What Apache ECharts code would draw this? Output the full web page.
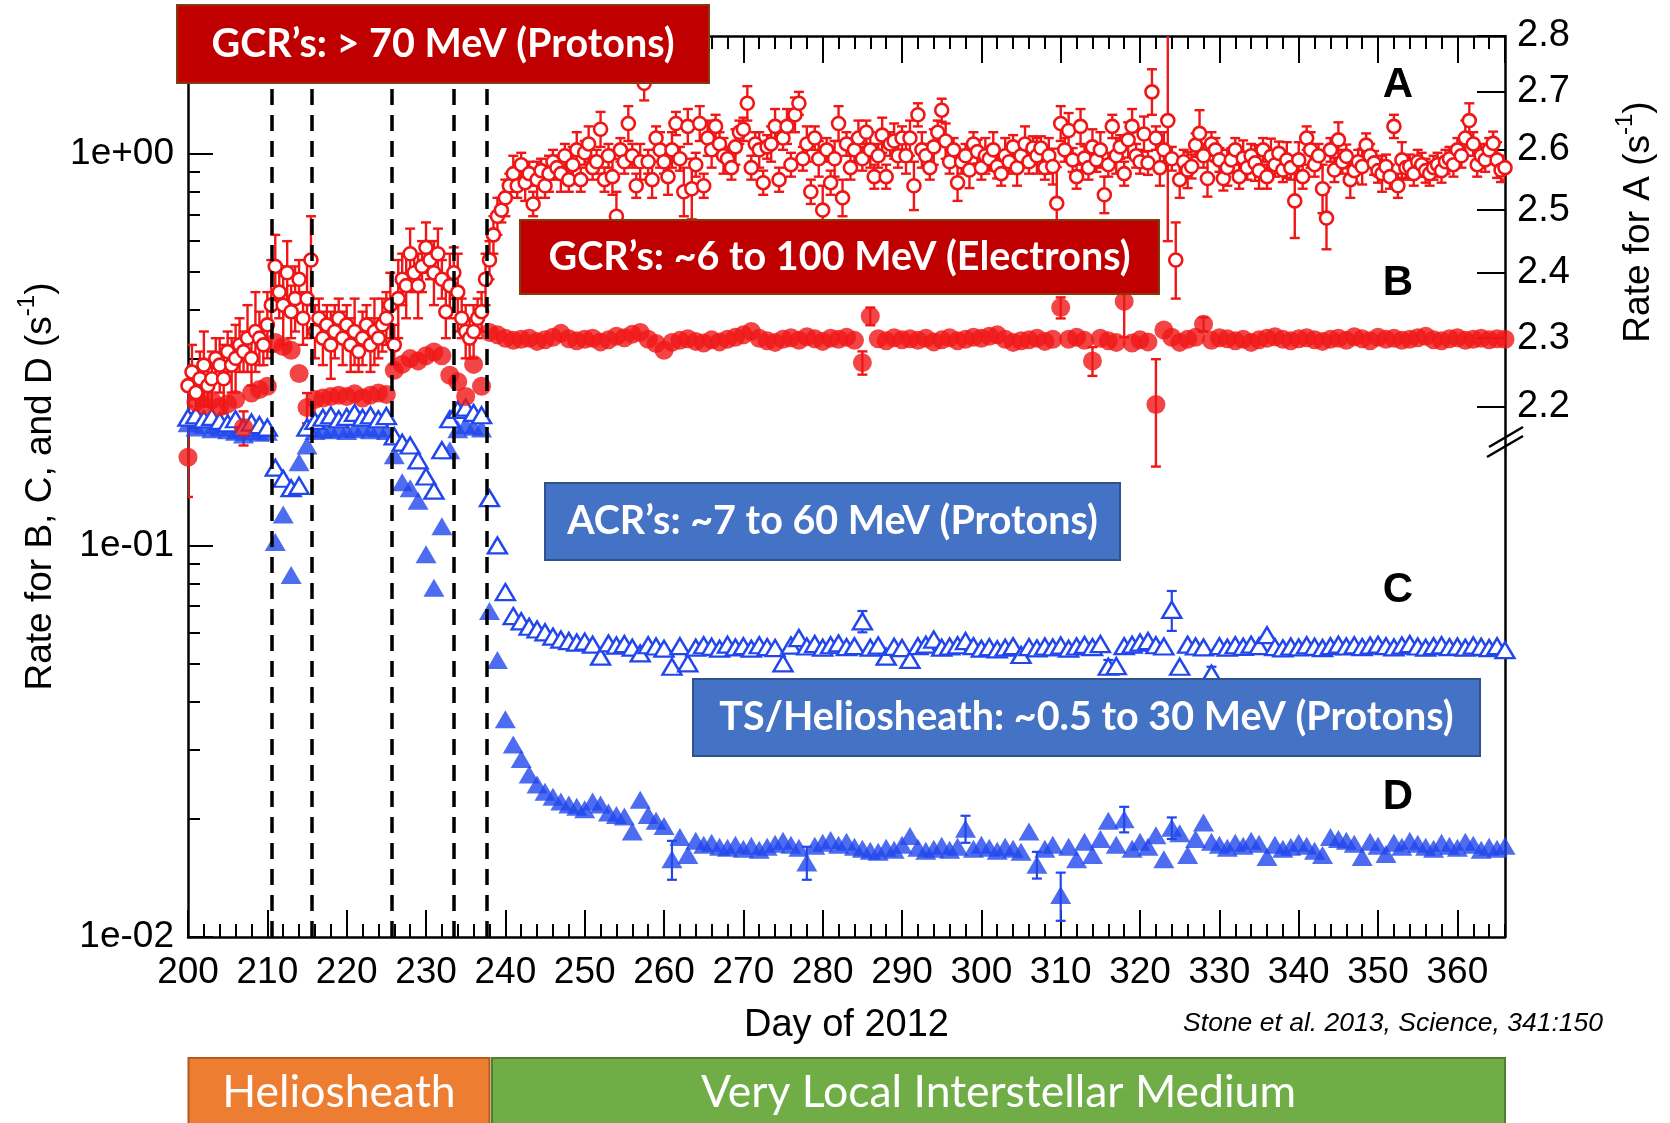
<!DOCTYPE html>
<html>
<head>
<meta charset="utf-8">
<title>Voyager 1 particle rates, 2012</title>
<script src="https://cdn.jsdelivr.net/npm/echarts@6/dist/echarts.min.js"></script>
<style>
  html, body { margin: 0; padding: 0; background: #fff; }
  #chart { width: 1670px; height: 1123px; }
</style>
</head>
<body>
<div id="chart"></div>
<script>
// ---------------------------------------------------------------------------
// Data
// ---------------------------------------------------------------------------
const FIRST_DAY = 200;

// A: GCR > 70 MeV protons (right axis, s^-1), two samples per day, day 200.0 .. 366.0
const rateA = [
  2.23,2.25,2.22,2.24,2.26,2.23,2.24,2.27,2.26,2.24,2.28,2.26,2.27,2.29,2.28,2.30,2.27,2.31,2.30,2.29,
  2.32,2.35,2.41,2.37,2.35,2.40,2.34,2.36,2.39,2.33,2.36,2.42,2.31,2.33,2.30,2.32,2.29,2.31,2.33,2.30,
  2.32,2.29,2.31,2.28,2.30,2.32,2.29,2.31,2.30,2.32,2.33,2.35,2.29,2.36,2.39,2.38,2.43,2.40,2.38,2.41,
  2.44,2.42,2.40,2.43,2.39,2.34,2.38,2.40,2.37,2.33,2.31,2.30,2.31,2.33,2.34,2.39,2.42,2.46,2.49,2.50,
  2.52,2.54,2.56,2.54,2.575,2.545,2.56,2.51,2.55,2.565,2.54,2.56,2.58,2.57,2.56,2.59,2.55,2.575,2.60,2.55,
  2.595,2.61,2.57,2.58,2.635,2.55,2.59,2.555,2.49,2.60,2.58,2.645,2.59,2.54,2.58,2.715,2.58,2.55,2.62,2.60,
  2.58,2.555,2.60,2.645,2.585,2.53,2.64,2.535,2.575,2.645,2.54,2.62,2.60,2.64,2.61,2.59,2.585,2.57,2.605,2.63,
  2.635,2.68,2.57,2.61,2.60,2.545,2.605,2.61,2.64,2.55,2.62,2.64,2.575,2.66,2.68,2.585,2.61,2.53,2.62,2.585,
  2.50,2.60,2.545,2.585,2.645,2.52,2.61,2.57,2.60,2.62,2.585,2.63,2.60,2.555,2.59,2.625,2.555,2.61,2.615,2.59,
  2.62,2.59,2.62,2.54,2.66,2.60,2.59,2.57,2.605,2.63,2.668,2.615,2.58,2.60,2.545,2.58,2.59,2.566,2.61,2.597,
  2.57,2.59,2.585,2.60,2.572,2.56,2.59,2.58,2.605,2.57,2.59,2.61,2.58,2.603,2.59,2.603,2.57,2.59,2.572,2.511,
  2.645,2.60,2.633,2.583,2.555,2.64,2.586,2.57,2.605,2.583,2.60,2.525,2.575,2.64,2.59,2.605,2.56,2.617,2.64,2.59,
  2.58,2.627,2.578,2.70,2.62,2.57,2.60,2.65,2.585,2.42,2.55,2.58,2.566,2.572,2.608,2.628,2.59,2.552,2.61,2.60,
  2.583,2.552,2.57,2.583,2.60,2.555,2.586,2.57,2.59,2.578,2.565,2.60,2.555,2.589,2.575,2.594,2.566,2.583,2.57,2.515,
  2.583,2.555,2.62,2.60,2.575,2.59,2.535,2.487,2.60,2.566,2.617,2.58,2.589,2.55,2.565,2.58,2.572,2.608,2.59,2.578,
  2.565,2.56,2.572,2.555,2.64,2.54,2.583,2.57,2.572,2.56,2.58,2.575,2.565,2.56,2.57,2.575,2.565,2.58,2.585,2.575,
  2.60,2.59,2.62,2.65,2.61,2.575,2.59,2.583,2.60,2.611,2.583,2.566,2.57
];
// A error-bar half widths, in units of 0.01 s^-1
const errA = [
  3,4,3,4,5,3,4,3,4,5,3,4,5,4,3,5,4,6,4,3,
  5,7,5,4,6,5,4,5,3,4,6,7,4,3,4,3,5,4,3,4,
  3,4,5,3,4,3,4,5,3,4,4,5,3,6,4,5,4,3,5,4,
  4,3,5,4,3,4,5,4,6,3,4,3,4,3,3,4,3,3,3,2,
  3,2,3,2,2,3,2,2,3,2,2,3,2,2,3,2,2,3,3,2,
  2,3,2,2,3,2,2,3,4,2,2,3,2,2,3,3,2,3,2,3,
  2,3,3,2,2,4,3,5,2,3,2,3,3,2,2,3,2,2,3,2,
  2,3,2,2,3,2,2,3,3,2,2,3,2,3,2,2,3,2,2,3,
  4,2,2,3,3,3,2,2,2,3,2,2,3,2,2,3,2,2,3,2,
  2,3,3,4,2,3,2,2,3,2,2,3,2,2,3,2,2,3,2,2,
  2,3,2,3,2,2,3,2,2,3,2,3,2,2,3,2,2,3,3,6,
  3,2,3,2,2,3,2,2,3,2,3,3,2,2,3,2,2,3,3,2,
  2,3,2,4,2,3,3,20,2,6,3,2,3,2,2,4,2,3,2,2,
  2,2,3,2,2,2,3,2,2,3,3,2,2,3,2,2,2,3,2,6,
  3,2,2,3,2,2,4,5,2,2,3,2,2,3,2,2,3,2,2,2,
  2,3,2,2,2,2,3,2,2,2,2,2,2,2,2,2,2,2,2,2,
  2,2,3,3,2,2,2,2,2,2,3,2,2
];

// B: GCR ~6-100 MeV electrons (left axis, s^-1), daily, day 200 .. 366
const rateB = [
  0.168,0.232,0.228,0.235,0.226,0.230,0.236,0.200,0.245,0.250,
  0.255,0.330,0.322,0.315,0.275,0.225,0.236,0.238,0.240,0.242,
  0.240,0.244,0.238,0.242,0.245,0.243,0.280,0.290,0.300,0.296,
  0.305,0.312,0.305,0.272,0.262,0.240,0.290,0.255,0.350,0.345,
  0.338,0.334,0.336,0.338,0.332,0.335,0.340,0.348,0.337,0.333,
  0.336,0.338,0.331,0.335,0.342,0.339,0.346,0.350,0.336,0.328,
  0.315,0.330,0.334,0.337,0.332,0.329,0.335,0.331,0.336,0.340,
  0.345,0.352,0.338,0.333,0.330,0.336,0.339,0.334,0.341,0.337,
  0.332,0.338,0.336,0.340,0.334,0.293,0.385,0.337,0.333,0.339,
  0.335,0.337,0.334,0.338,0.331,0.335,0.339,0.333,0.336,0.340,
  0.338,0.342,0.345,0.336,0.330,0.333,0.335,0.338,0.332,0.336,
  0.405,0.336,0.340,0.334,0.296,0.338,0.333,0.330,0.420,0.329,
  0.335,0.331,0.229,0.355,0.340,0.330,0.336,0.340,0.367,0.334,
  0.339,0.337,0.333,0.336,0.330,0.335,0.338,0.341,0.336,0.333,
  0.337,0.339,0.335,0.332,0.336,0.338,0.334,0.341,0.337,0.333,
  0.340,0.336,0.338,0.334,0.336,0.339,0.342,0.335,0.333,0.337,
  0.339,0.334,0.336,0.338,0.335,0.337,0.336
];

// C: ACR ~7-60 MeV protons (left axis), daily, day 200 .. 366
const rateC = [
  0.212,0.215,0.210,0.213,0.208,0.205,0.210,0.200,0.206,0.203,
  0.200,0.158,0.148,0.140,0.142,0.200,0.208,0.212,0.215,0.210,
  0.213,0.218,0.212,0.215,0.210,0.214,0.190,0.183,0.180,0.165,
  0.150,0.138,0.175,0.210,0.222,0.225,0.218,0.215,0.132,0.100,
  0.076,0.066,0.064,0.062,0.061,0.060,0.0585,0.0575,0.0570,0.0565,
  0.0568,0.0558,0.0520,0.0562,0.0555,0.0560,0.0548,0.0530,0.0556,0.0552,
  0.0545,0.0490,0.0553,0.0500,0.0548,0.0556,0.0551,0.0545,0.0558,0.0549,
  0.0553,0.0545,0.0556,0.0550,0.0547,0.0500,0.0555,0.0580,0.0552,0.0560,
  0.0548,0.0556,0.0562,0.0550,0.0553,0.0640,0.0548,0.0555,0.0520,0.0551,
  0.0547,0.0510,0.0553,0.0558,0.0575,0.0548,0.0552,0.0556,0.0570,0.0553,
  0.0545,0.0550,0.0543,0.0548,0.0553,0.0525,0.0550,0.0546,0.0552,0.0549,
  0.0555,0.0545,0.0552,0.0557,0.0550,0.0560,0.0490,0.0492,0.0553,0.0558,
  0.0565,0.0570,0.0556,0.0552,0.0685,0.0490,0.0558,0.0552,0.0549,0.0470,
  0.0553,0.0548,0.0556,0.0551,0.0558,0.0553,0.0590,0.0550,0.0546,0.0552,
  0.0549,0.0556,0.0551,0.0547,0.0553,0.0558,0.0552,0.0556,0.0550,0.0555,
  0.0558,0.0553,0.0549,0.0555,0.0560,0.0552,0.0548,0.0553,0.0556,0.0550,
  0.0552,0.0548,0.0555,0.0551,0.0547,0.0553,0.0540
];

// D: TS/heliosheath ~0.5-30 MeV protons (left axis), daily, day 200 .. 366
const rateD = [
  0.205,0.200,0.203,0.198,0.200,0.197,0.195,0.192,0.196,0.194,
  0.195,0.102,0.120,0.084,0.163,0.180,0.196,0.198,0.197,0.199,
  0.196,0.198,0.200,0.197,0.199,0.196,0.170,0.145,0.140,0.130,
  0.095,0.078,0.112,0.175,0.198,0.203,0.201,0.199,0.068,0.051,
  0.036,0.031,0.0285,0.026,0.0245,0.0235,0.0228,0.0222,0.0218,0.0215,
  0.0212,0.0222,0.0218,0.0208,0.0205,0.0203,0.0186,0.0224,0.0205,0.0198,
  0.0192,0.0158,0.0180,0.0162,0.0176,0.0172,0.0174,0.0170,0.0169,0.0172,
  0.0168,0.0171,0.0167,0.0170,0.0173,0.0176,0.0172,0.0169,0.0155,0.0171,
  0.0174,0.0177,0.0172,0.0175,0.0170,0.0168,0.0166,0.0165,0.0169,0.0167,
  0.0172,0.0181,0.0169,0.0166,0.0168,0.0171,0.0167,0.0170,0.0189,0.0168,
  0.0172,0.0169,0.0166,0.0170,0.0168,0.0165,0.0186,0.0153,0.0168,0.0172,
  0.0128,0.0170,0.0158,0.0175,0.0162,0.0178,0.0198,0.0172,0.0200,0.0168,
  0.0175,0.0170,0.0182,0.0158,0.0190,0.0184,0.0162,0.0178,0.0196,0.0175,
  0.0172,0.0169,0.0174,0.0171,0.0176,0.0173,0.0160,0.0172,0.0168,0.0170,
  0.0174,0.0171,0.0166,0.0162,0.0180,0.0178,0.0176,0.0173,0.0160,0.0175,
  0.0171,0.0163,0.0174,0.0170,0.0176,0.0173,0.0170,0.0168,0.0174,0.0171,
  0.0169,0.0175,0.0172,0.0167,0.0170,0.0168,0.0171
];

// Error bars on the daily series: [day, half width]
const errB = [[200,0.035],[207,0.02],[215,0.02],[285,0.02],[286,0.02],[310,0.025],[314,0.025],[318,0.08],[322,0.07],[328,0.015]];
const errC = [[285,0.004],[316,0.002],[324,0.008],[329,0.002]];
const errD = [[261,0.0018],[278,0.0015],[298,0.0015],[307,0.0012],[310,0.0018],[318,0.0015],[324,0.0012]];

// Boundary crossings marked by dashed lines (day of 2012)
const transitionDays = [210.6, 215.6, 225.7, 233.5, 237.7];

// Axis ticks
const leftMinorTicks = [0.02,0.03,0.04,0.05,0.06,0.07,0.08,0.09,0.2,0.3,0.4,0.5,0.6,0.7,0.8,0.9];
const rightTicks = [2.2, 2.3, 2.4, 2.5, 2.6, 2.7, 2.8];

// ---------------------------------------------------------------------------
// Chart
// ---------------------------------------------------------------------------
const RED = '#f01616';
const BLUE = '#2147ec';
const FONT = "'Liberation Sans', Arial, Helvetica, sans-serif";
const BOXFONT = "Lato, 'Open Sans', sans-serif";

const daysA = rateA.map((_, i) => FIRST_DAY + i * 0.5);
const daysDaily = rateB.map((_, i) => FIRST_DAY + i);

const pointsA = rateA.map((v, i) => [daysA[i], v]);
const barsA = rateA.map((v, i) => [daysA[i], v - errA[i] / 100, v + errA[i] / 100]);
const toPoints = arr => arr.map((v, i) => [daysDaily[i], v]);
const toBars = (arr, errs) => errs.map(([d, e]) => {
  const v = arr[d - FIRST_DAY];
  return [d, v - e, v + e];
});

function errorBars(color, cap, width) {
  return function (params, api) {
    const x = api.value(0);
    const lo = api.coord([x, api.value(1)]);
    const hi = api.coord([x, api.value(2)]);
    const st = { stroke: color, lineWidth: width };
    return {
      type: 'group',
      children: [
        { type: 'line', shape: { x1: lo[0], y1: lo[1], x2: hi[0], y2: hi[1] }, style: st },
        { type: 'line', shape: { x1: lo[0] - cap, y1: lo[1], x2: lo[0] + cap, y2: lo[1] }, style: st },
        { type: 'line', shape: { x1: hi[0] - cap, y1: hi[1], x2: hi[0] + cap, y2: hi[1] }, style: st }
      ]
    };
  };
}

function logLabel(v) {
  const e = Math.round(Math.log10(v));
  return '1e' + (e < 0 ? '-' : '+') + String(Math.abs(e)).padStart(2, '0');
}

const axisLineStyle = { color: '#000', width: 2.5 };
const tickStyle = { color: '#000', width: 2 };

const xBase = { type: 'value', min: 200, max: 366, gridIndex: 0, splitLine: { show: false } };

const xAxes = [
  Object.assign({}, xBase, {
    position: 'bottom', interval: 10,
    axisLine: { show: true, onZero: false, lineStyle: axisLineStyle },
    axisTick: { show: true, inside: true, length: 27, lineStyle: tickStyle },
    axisLabel: { show: true, fontSize: 37, fontFamily: FONT, color: '#000', margin: 17, showMaxLabel: false },
    name: 'Day of 2012', nameLocation: 'middle', nameGap: 70,
    nameTextStyle: { fontSize: 38, fontFamily: FONT, color: '#000' }
  }),
  Object.assign({}, xBase, {
    position: 'bottom', interval: 2, offset: 0,
    axisLine: { show: false, onZero: false },
    axisTick: { show: true, inside: true, length: 13, lineStyle: tickStyle },
    axisLabel: { show: false }
  }),
  Object.assign({}, xBase, {
    position: 'top', interval: 10, offset: 0,
    axisLine: { show: true, onZero: false, lineStyle: axisLineStyle },
    axisTick: { show: true, inside: true, length: 27, lineStyle: tickStyle },
    axisLabel: { show: false }
  }),
  Object.assign({}, xBase, {
    position: 'top', interval: 2, offset: 0,
    axisLine: { show: false, onZero: false },
    axisTick: { show: true, inside: true, length: 13, lineStyle: tickStyle },
    axisLabel: { show: false }
  })
];

const yAxes = [
  {
    type: 'log', logBase: 10, min: 0.01, max: 2, position: 'left', offset: 0,
    splitLine: { show: false },
    axisLine: { show: true, onZero: false, lineStyle: axisLineStyle },
    axisTick: { show: true, inside: true, length: 25, lineStyle: tickStyle },
    axisLabel: { show: true, fontSize: 37, fontFamily: FONT, color: '#000', margin: 14,
                 showMaxLabel: false, formatter: logLabel },
    name: '{t|Rate for B, C, and D (s}{s|-1}{t|)}',
    nameLocation: 'middle', nameGap: 128, nameRotate: 90,
    nameTextStyle: {
      rich: {
        t: { fontSize: 37, fontFamily: FONT, color: '#000', lineHeight: 44, verticalAlign: 'bottom' },
        s: { fontSize: 24, fontFamily: FONT, color: '#000', lineHeight: 24, verticalAlign: 'top' }
      }
    }
  },
  {
    type: 'log', logBase: 10, min: 1.5575, max: 2.8, position: 'right', offset: 0,
    splitLine: { show: false },
    axisLine: { show: true, onZero: false, lineStyle: axisLineStyle },
    axisTick: { show: true, inside: true, length: 28, lineStyle: tickStyle, customValues: rightTicks },
    axisLabel: { show: true, fontSize: 38, fontFamily: FONT, color: '#000', margin: 12,
                 customValues: rightTicks, formatter: v => v.toFixed(1) }
  },
  {
    type: 'log', logBase: 10, min: 0.01, max: 2, position: 'left', offset: 0,
    splitLine: { show: false },
    axisLine: { show: false, onZero: false },
    axisTick: { show: true, inside: true, length: 12, lineStyle: tickStyle, customValues: leftMinorTicks },
    axisLabel: { show: false }
  }
];

function box(x, y, w, h, fill, stroke, text, font) {
  return {
    type: 'group', z: 100,
    children: [
      { type: 'rect', shape: { x: x, y: y, width: w, height: h },
        style: { fill: fill, stroke: stroke, lineWidth: 2 }, z: 100 },
      { type: 'text', x: x + w / 2, y: y + h / 2, z: 101,
        style: { text: text, font: font, fill: '#fff', align: 'center', verticalAlign: 'middle',
                 textAlign: 'center', textVerticalAlign: 'middle' } }
    ]
  };
}

function letter(ch, x, y) {
  return { type: 'text', x: x, y: y, z: 100,
    style: { text: ch, font: 'bold 42px ' + FONT, fill: '#000', align: 'center', verticalAlign: 'middle',
             textAlign: 'center', textVerticalAlign: 'middle' } };
}

const graphics = [
  box(177, 5, 532, 78, '#c00000', '#843c0c', 'GCR\u2019s: > 70 MeV (Protons)', 'bold 39.5px ' + BOXFONT),
  box(520, 220, 639, 74, '#c00000', '#843c0c', 'GCR\u2019s: ~6 to 100 MeV (Electrons)', 'bold 39.5px ' + BOXFONT),
  box(545, 483, 575, 77, '#4472c4', '#2f528f', 'ACR\u2019s: ~7 to 60 MeV (Protons)', 'bold 39.5px ' + BOXFONT),
  box(693, 679, 787, 77, '#4472c4', '#2f528f', 'TS/Heliosheath: ~0.5 to 30 MeV (Protons)', 'bold 39.5px ' + BOXFONT),
  box(188.5, 1058, 301, 70, '#ed7d31', '#ae5a21', 'Heliosheath', '44.5px ' + BOXFONT),
  box(492, 1058, 1013, 70, '#70ad47', '#507e32', 'Very Local Interstellar Medium', '44.5px ' + BOXFONT),
  letter('A', 1398, 85),
  letter('B', 1398, 283),
  letter('C', 1398, 590),
  letter('D', 1398, 797),
  // broken-axis mark on the right axis
  { type: 'line', z: 100, shape: { x1: 1489, y1: 447, x2: 1523, y2: 427 }, style: { stroke: '#000', lineWidth: 2.5 } },
  { type: 'line', z: 100, shape: { x1: 1487, y1: 457, x2: 1523, y2: 436 }, style: { stroke: '#000', lineWidth: 2.5 } },
  {
    type: 'text', x: 1635, y: 222, rotation: Math.PI / 2, z: 100,
    style: {
      text: '{t|Rate for A (s}{s|-1}{t|)}', align: 'center', verticalAlign: 'middle',
      textAlign: 'center', textVerticalAlign: 'middle',
      rich: {
        t: { fontSize: 37, fontFamily: FONT, fill: '#000', lineHeight: 44, verticalAlign: 'bottom' },
        s: { fontSize: 24, fontFamily: FONT, fill: '#000', lineHeight: 24, verticalAlign: 'top' }
      }
    }
  },
  {
    type: 'text', x: 1603, y: 1024, z: 100,
    style: { text: 'Stone et al. 2013, Science, 341:150', font: 'italic 26.5px ' + FONT, fill: '#000',
             align: 'right', verticalAlign: 'middle', textAlign: 'right', textVerticalAlign: 'middle' }
  }
];

const openStyle = (color, w) => ({ color: '#fff', borderColor: color, borderWidth: w, opacity: 1 });

const option = {
  animation: false,
  backgroundColor: '#fff',
  grid: { left: 188, right: 165, top: 36, bottom: 186, containLabel: false },
  xAxis: xAxes,
  yAxis: yAxes,
  series: [
    {
      name: 'boundaries', type: 'line', data: [], xAxisIndex: 0, yAxisIndex: 0, z: 1,
      markLine: {
        silent: true, symbol: ['none', 'none'], label: { show: false },
        lineStyle: { color: '#000', width: 3.5, type: [16, 10] },
        data: transitionDays.map(d => ({ xAxis: d }))
      }
    },
    { name: 'D err', type: 'custom', xAxisIndex: 0, yAxisIndex: 0, z: 2, clip: true,
      renderItem: errorBars(BLUE, 5, 2.2), data: toBars(rateD, errD) },
    { name: 'D', type: 'scatter', xAxisIndex: 0, yAxisIndex: 0, z: 2, symbol: 'triangle', symbolSize: [21, 18],
      itemStyle: { color: BLUE }, data: toPoints(rateD) },
    { name: 'C err', type: 'custom', xAxisIndex: 0, yAxisIndex: 0, z: 2, clip: true,
      renderItem: errorBars(BLUE, 5, 2.2), data: toBars(rateC, errC) },
    { name: 'C', type: 'scatter', xAxisIndex: 0, yAxisIndex: 0, z: 2, symbol: 'triangle', symbolSize: [19, 16],
      itemStyle: openStyle(BLUE, 2.4), data: toPoints(rateC) },
    { name: 'B err', type: 'custom', xAxisIndex: 0, yAxisIndex: 0, z: 2, clip: true,
      renderItem: errorBars(RED, 5, 2.4), data: toBars(rateB, errB) },
    { name: 'B', type: 'scatter', xAxisIndex: 0, yAxisIndex: 0, z: 2, symbol: 'circle', symbolSize: 19,
      itemStyle: { color: RED }, data: toPoints(rateB) },
    { name: 'A err', type: 'custom', xAxisIndex: 0, yAxisIndex: 1, z: 2, clip: true,
      renderItem: errorBars(RED, 5, 2.4), data: barsA },
    { name: 'A', type: 'scatter', xAxisIndex: 0, yAxisIndex: 1, z: 2, symbol: 'circle', symbolSize: 13,
      itemStyle: openStyle(RED, 2.6), data: pointsA }
  ],
  graphic: graphics
};

const chart = echarts.init(document.getElementById('chart'), null, { renderer: 'canvas' });
chart.setOption(option);
</script>
</body>
</html>
